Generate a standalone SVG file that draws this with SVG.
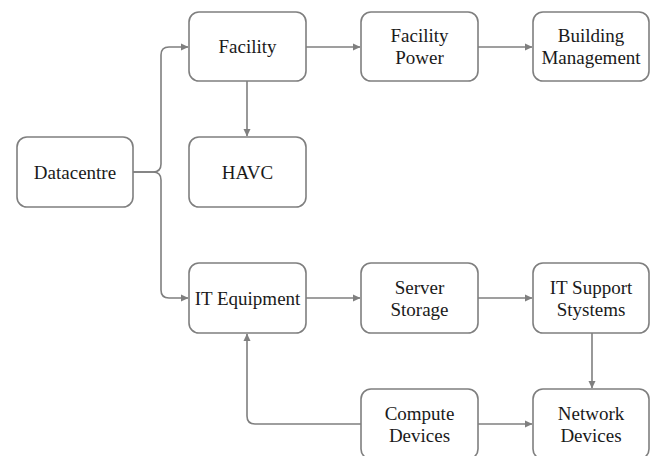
<svg xmlns="http://www.w3.org/2000/svg" width="650" height="456" viewBox="0 0 650 456">
<style>
.box{fill:#fff;stroke:#7f7f7f;stroke-width:1.6}
.lbl{font-family:"Liberation Serif","Times New Roman",serif;font-size:19px;fill:#1a1a1a;text-anchor:middle}
.edge{fill:none;stroke:#7f7f7f;stroke-width:1.6}
</style>
<defs>
<marker id="arr" markerWidth="8" markerHeight="8" refX="7" refY="4" orient="auto" markerUnits="userSpaceOnUse">
<path d="M0,0.5 L7.5,4 L0,7.5 Z" fill="#7f7f7f"/>
</marker>
</defs>
<rect width="650" height="456" fill="#fff"/>
<g id="connectors">
<path class="edge" d="M133,172 H153 Q161,172 161,164 V55 Q161,47 169,47 H188" marker-end="url(#arr)"/>
<path class="edge" d="M133,172 H153 Q161,172 161,180 V290 Q161,298 169,298 H188" marker-end="url(#arr)"/>
<path class="edge" d="M247,81 V136" marker-end="url(#arr)"/>
<path class="edge" d="M306,47 H360" marker-end="url(#arr)"/>
<path class="edge" d="M478,47 H532" marker-end="url(#arr)"/>
<path class="edge" d="M306,298 H360" marker-end="url(#arr)"/>
<path class="edge" d="M478,298 H532" marker-end="url(#arr)"/>
<path class="edge" d="M592,333 V388" marker-end="url(#arr)"/>
<path class="edge" d="M478,424 H532" marker-end="url(#arr)"/>
<path class="edge" d="M361,424 H255 Q247,424 247,416 V334" marker-end="url(#arr)"/>
</g>
<g id="datacentre"><rect class="box" x="17" y="137" width="116" height="70" rx="10"/><text class="lbl" x="75" y="178.5">Datacentre</text></g>
<g id="facility"><rect class="box" x="189" y="12" width="117" height="69" rx="10"/><text class="lbl" x="247.5" y="53">Facility</text></g>
<g id="havc"><rect class="box" x="189" y="137" width="117" height="70" rx="10"/><text class="lbl" x="247.5" y="178.5">HAVC</text></g>
<g id="facility-power"><rect class="box" x="361" y="12" width="117" height="69" rx="10"/><text class="lbl" x="419.5" y="42">Facility</text><text class="lbl" x="419.5" y="64">Power</text></g>
<g id="building-management"><rect class="box" x="533" y="12" width="116" height="69" rx="10"/><text class="lbl" x="591" y="42">Building</text><text class="lbl" x="591" y="64">Management</text></g>
<g id="it-equipment"><rect class="box" x="189" y="263" width="117" height="70" rx="10"/><text class="lbl" x="247.5" y="304.5">IT Equipment</text></g>
<g id="server-storage"><rect class="box" x="361" y="263" width="117" height="70" rx="10"/><text class="lbl" x="419.5" y="293.5">Server</text><text class="lbl" x="419.5" y="315.5">Storage</text></g>
<g id="it-support"><rect class="box" x="533" y="263" width="116" height="70" rx="10"/><text class="lbl" x="591" y="293.5">IT Support</text><text class="lbl" x="591" y="315.5">Stystems</text></g>
<g id="compute-devices"><rect class="box" x="361" y="389" width="117" height="70" rx="10"/><text class="lbl" x="419.5" y="419.5">Compute</text><text class="lbl" x="419.5" y="441.5">Devices</text></g>
<g id="network-devices"><rect class="box" x="533" y="389" width="116" height="70" rx="10"/><text class="lbl" x="591" y="419.5">Network</text><text class="lbl" x="591" y="441.5">Devices</text></g>
</svg>
